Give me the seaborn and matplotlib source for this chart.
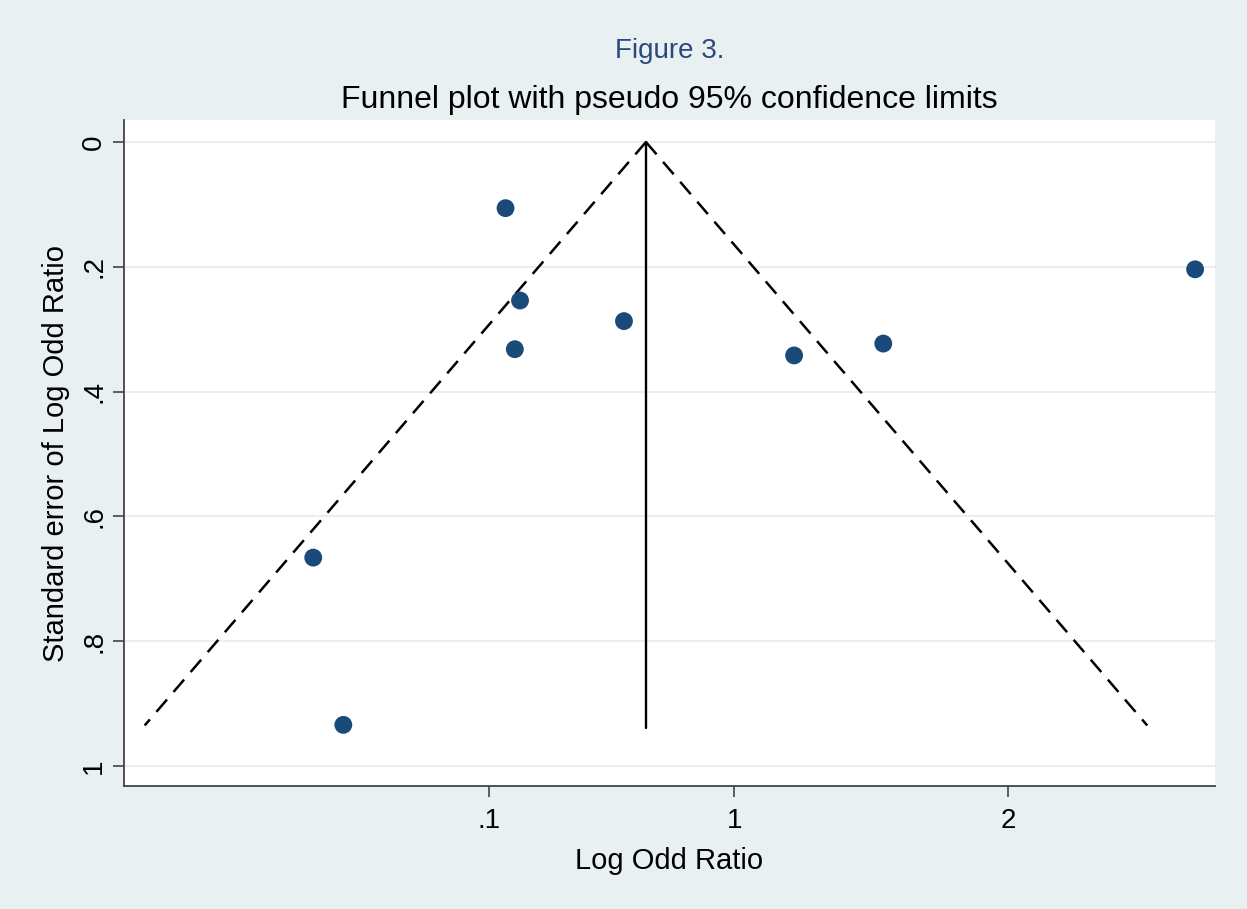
import matplotlib
matplotlib.use("Agg")
import matplotlib.pyplot as plt
import seaborn as sns
import numpy as np
import pandas as pd

# ---- data ----
log_or = [-0.837, -0.784, -0.803, -0.404, 0.218, 0.544, 1.684, -1.540, -1.430]
se_log_or = [0.106, 0.254, 0.332, 0.287, 0.342, 0.323, 0.204, 0.666, 0.934]
pooled = -0.3236
se_max = 0.935
x_ticks = [-0.896, 0.0, 1.0]
x_tick_labels = [".1", "1", "2"]
y_ticks = [0, 0.2, 0.4, 0.6, 0.8, 1.0]
y_tick_labels = ["0", ".2", ".4", ".6", ".8", "1"]

df = pd.DataFrame({"x": log_or, "se": se_log_or})

sns.set_theme(style="white")
plt.rcParams["font.family"] = ["Liberation Sans", "DejaVu Sans"]

bg = "#e9f0f2"
fig = plt.figure(figsize=(12.47, 9.09), dpi=100, facecolor=bg)
ax = fig.add_axes([0.0994, 0.1353, 0.875, 0.7327])
ax.set_facecolor("white")

# grid lines
for yv in y_ticks:
    ax.axhline(yv, color="#eaeaea", lw=1.2, zorder=0)

# funnel limits
se_line = np.array([0.0, se_max])
dash = (0, (6.5, 4.0))
ax.plot(pooled - 1.96 * se_line, se_line, ls=dash, color="black", lw=1.8, zorder=2)
ax.plot(pooled + 1.96 * se_line, se_line, ls=dash, color="black", lw=1.8, zorder=2)
ax.plot([pooled, pooled], [0, se_max + 0.004], color="black", lw=1.7, zorder=2)

sns.scatterplot(data=df, x="x", y="se", ax=ax, color="#1a4a7a", s=165,
                edgecolor="none", zorder=3, legend=False)

ax.set_xlim(-2.232, 1.757)
ax.set_ylim(1.032, -0.0353)

ax.set_xticks(x_ticks)
ax.set_xticklabels(x_tick_labels, fontsize=20)
ax.set_yticks(y_ticks)
ax.set_yticklabels(y_tick_labels, fontsize=20, rotation=90, va="center")

for side in ["top", "right"]:
    ax.spines[side].set_visible(False)
for side in ["left", "bottom"]:
    ax.spines[side].set_color("#444444")
    ax.spines[side].set_linewidth(1.3)

ax.tick_params(axis="x", which="major", direction="out", length=8, width=1.2,
               color="#444444", labelcolor="black", pad=8, bottom=True)
ax.tick_params(axis="y", which="major", direction="out", length=8, width=1.2,
               color="#444444", labelcolor="black", pad=4, left=True)

ax.set_xlabel("Log Odd Ratio", fontsize=21, labelpad=9, color="black")
ax.set_ylabel("Standard error of Log Odd Ratio", fontsize=21, labelpad=8, color="black")

cx = 0.0994 + 0.875 / 2
fig.text(cx, 1 - 51 / 909, "Figure 3.", ha="center", va="center", fontsize=20, color="#2a4a7a")
fig.text(cx, 1 - 100 / 909, "Funnel plot with pseudo 95% confidence limits",
         ha="center", va="center", fontsize=23, color="black")

fig.savefig("out.png", dpi=100, facecolor=bg)
